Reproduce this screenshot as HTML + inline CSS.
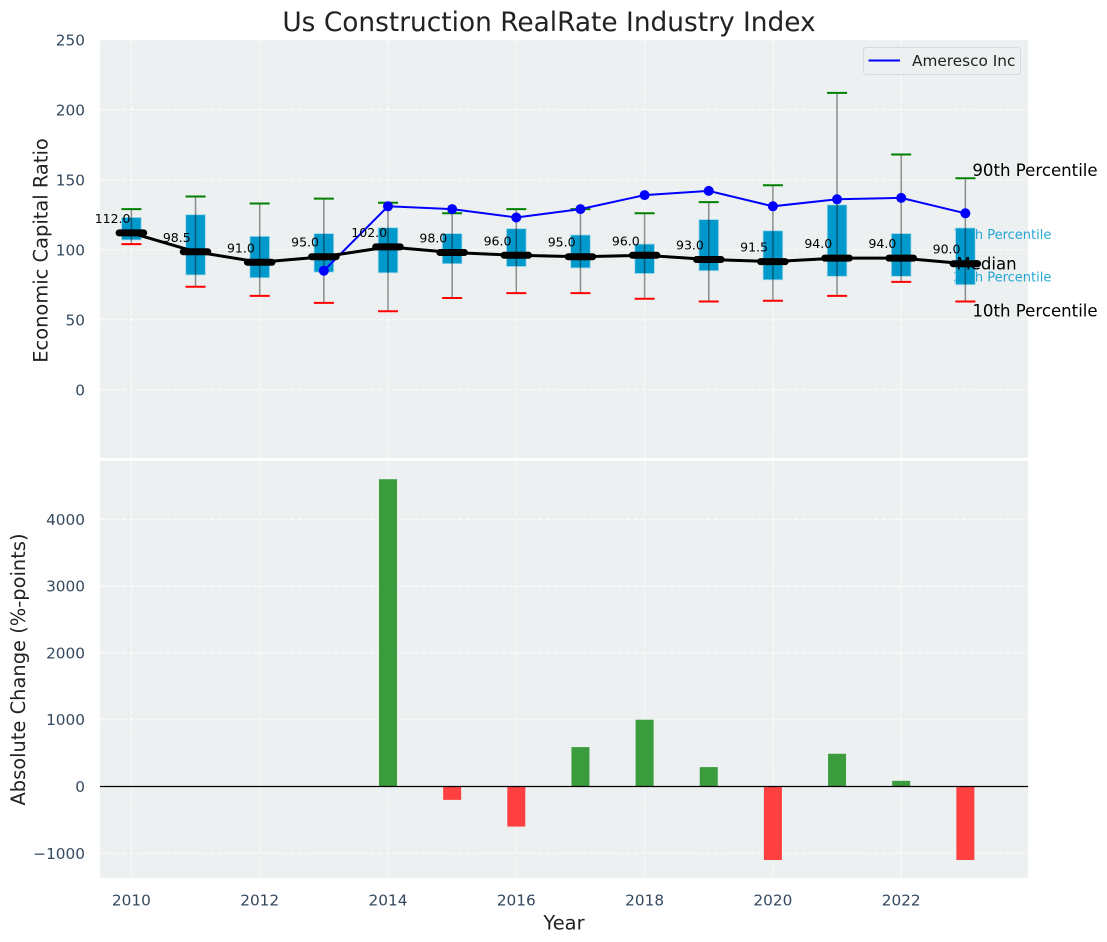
<!DOCTYPE html>
<html lang="en">
<head>
<meta charset="utf-8">
<title>Us Construction RealRate Industry Index</title>
<style>
html,body{margin:0;padding:0;background:#fff;}
body{width:1107px;height:942px;overflow:hidden;}
svg{display:block;font-family:"DejaVu Sans","Liberation Sans",sans-serif;}
</style>
</head>
<body>
<svg id="chart" width="1107" height="942" viewBox="0 0 1107 942" xmlns="http://www.w3.org/2000/svg">
  <rect x="100" y="40" width="928" height="418" fill="#ecf0f1"/>
  <rect x="100" y="461" width="928" height="417" fill="#ecf0f1"/>
  <g id="grid"></g>
  <g id="labelsUnder">
    <text id="p75Label" font-size="13" fill="#0099cc" fill-opacity="0.85" text-anchor="end">75th Percentile</text>
    <text id="p25Label" font-size="13" fill="#0099cc" fill-opacity="0.85" text-anchor="end">25th Percentile</text>
  </g>
  <g id="boxes"></g>
  <g id="whiskers"></g>
  <g id="companyLine"></g>
  <text id="medianLabel" font-size="16.6" fill="#000">Median</text>
  <g id="medians"></g>
  <text id="p90Label" font-size="16.6" fill="#000">90th Percentile</text>
  <text id="p10Label" font-size="16.6" fill="#000">10th Percentile</text>
  <g id="bars"></g>
  <g id="ticks"></g>

  <text x="549" y="31" font-size="26.4" fill="#222" text-anchor="middle">Us Construction RealRate Industry Index</text>
  <text transform="translate(47.5,250.5) rotate(-90)" font-size="19.45" fill="#222" text-anchor="middle">Economic Capital Ratio</text>
  <text transform="translate(25,669.5) rotate(-90)" font-size="19.45" fill="#222" text-anchor="middle">Absolute Change (%-points)</text>
  <text x="564" y="929.5" font-size="19.45" fill="#222" text-anchor="middle">Year</text>

  <g>
    <rect x="863.5" y="47.5" width="157" height="27" rx="3" fill="#ecf0f1" stroke="#d6d9da" stroke-width="1"/>
    <line x1="868.5" y1="60.5" x2="900" y2="60.5" stroke="#0000ff" stroke-width="2"/>
    <text x="912" y="66" font-size="15.3" fill="#222">Ameresco Inc</text>
  </g>
</svg>
<script>
const years = [2010,2011,2012,2013,2014,2015,2016,2017,2018,2019,2020,2021,2022,2023];
const median = [112,98.5,91,95,102,98,96,95,96,93,91.5,94,94,90];
const p90 = [129,138,133,136.5,133.5,126,129,129,126,134,146,212,168,151];
const p10 = [104,73.5,67,62,56,65.5,69,69,65,63,63.5,67,77,63];
const p75 = [123,125,109.5,111.5,115.7,111.5,115,110.5,104,121.5,113.5,132,111.5,115.5];
const p25 = [107,82,80,84,83.5,90,88,87,83,85,78.5,81,81,75];
const ameresco = [null,null,null,85,131,129,123,129,139,142,131,136,137,126];
const absChange = [0,0,0,0,4600,-200,-600,590,1000,290,-1100,490,85,-1100];
const xTicks = [2010,2012,2014,2016,2018,2020,2022];
const upperTicks = [0,50,100,150,200,250];
const lowerTicks = [-1000,0,1000,2000,3000,4000];

const NS = 'http://www.w3.org/2000/svg';
const sx = v => 131.4 + (v - 2010) * 64.15;
const sy = v => 389.7 - v * 1.4;
const sb = v => 786.5 - v * 0.0668;

function mk(parent, tag, attrs, text) {
  const el = document.createElementNS(NS, tag);
  for (const k in attrs) el.setAttribute(k, attrs[k]);
  if (text !== undefined) el.textContent = text;
  parent.appendChild(el);
  return el;
}
const grid = document.getElementById('grid');
const ticks = document.getElementById('ticks');
const boxes = document.getElementById('boxes');
const whiskers = document.getElementById('whiskers');
const companyLine = document.getElementById('companyLine');
const medians = document.getElementById('medians');
const bars = document.getElementById('bars');
const gridStyle = {stroke:'#ffffff','stroke-width':1.2,'stroke-dasharray':'5.1 2.2','stroke-opacity':0.75};

xTicks.forEach(t => {
  const a = mk(grid, 'line', {x1:sx(t),x2:sx(t),y1:40,y2:458,...gridStyle});
  
  
  const b = mk(grid, 'line', {x1:sx(t),x2:sx(t),y1:461,y2:878,...gridStyle});
  
  
  const l = mk(ticks, 'text', {x:sx(t),y:905.5,'font-size':15.3,fill:'#34495e','text-anchor':'middle'}, String(t));
  
  
});
upperTicks.forEach(t => {
  const g = mk(grid, 'line', {x1:100,x2:1028,y1:sy(t),y2:sy(t),...gridStyle});
  
  
  const l = mk(ticks, 'text', {x:85,y:sy(t)+5.8,'font-size':15.3,fill:'#34495e','text-anchor':'end'}, String(t));
  
  
});
lowerTicks.forEach(t => {
  const g = mk(grid, 'line', {x1:100,x2:1028,y1:sb(t),y2:sb(t),...gridStyle});
  
  
  const txt = t < 0 ? '\u2212' + Math.abs(t) : String(t);
  const l = mk(ticks, 'text', {x:85,y:sb(t)+5.5,'font-size':15.3,fill:'#34495e','text-anchor':'end'}, txt);
  
  
});

const last = years.length - 1;
const lastX = sx(years[last]);
function place(id, x, y) {
  const el = document.getElementById(id);
  el.setAttribute('x', x);
  el.setAttribute('y', y);
}
place('p75Label', lastX + 86, sy(p75[last]) + 11);
place('p25Label', lastX + 86, sy(p25[last]) - 3);
place('medianLabel', lastX - 9, sy(median[last]) + 6);
place('p90Label', lastX + 7, sy(p90[last]) - 2.5);
place('p10Label', lastX + 7, sy(p10[last]) + 15);

years.forEach((yr, i) => {
  const x = sx(yr);
  const box = mk(boxes, 'rect', {x:x-9.8,y:sy(p75[i]),width:19.6,height:sy(p25[i])-sy(p75[i]),fill:'#0099cc',stroke:'#9fd8ea','stroke-width':0.8});
  
  
  const stem = mk(whiskers, 'line', {x1:x,x2:x,y1:sy(p90[i]),y2:sy(p10[i]),stroke:'#000','stroke-opacity':0.42,'stroke-width':1.5});
  
  
  const top = mk(whiskers, 'line', {x1:x-10,x2:x+10,y1:sy(p90[i]),y2:sy(p90[i]),stroke:'#008000','stroke-width':2});
  
  
  const bot = mk(whiskers, 'line', {x1:x-10,x2:x+10,y1:sy(p10[i]),y2:sy(p10[i]),stroke:'#ff0000','stroke-width':2});
  
  
  if (absChange[i] !== 0) {
    const y0 = sb(Math.max(absChange[i], 0));
    const y1 = sb(Math.min(absChange[i], 0));
    const up = absChange[i] > 0;
    const bar = mk(bars, 'rect', {x:x-9,y:y0,width:18,height:y1-y0,fill:up?'#3a9c3d':'#ff4040'});
    
    
  }
});

const amPts = years.map((y, i) => ameresco[i] === null ? null : sx(y) + ',' + sy(ameresco[i])).filter(Boolean).join(' ');
const amLine = mk(companyLine, 'polyline', {points:amPts,fill:'none',stroke:'#0000ff','stroke-width':2});


years.forEach((y, i) => {
  if (ameresco[i] === null) return;
  const dot = mk(companyLine, 'circle', {cx:sx(y),cy:sy(ameresco[i]),r:5,fill:'#0000ff'});
  
  
});

const medPts = years.map((y, i) => sx(y) + ',' + sy(median[i])).join(' ');
const medLine = mk(medians, 'polyline', {points:medPts,fill:'none',stroke:'#000','stroke-width':3});


years.forEach((y, i) => {
  const x = sx(y), v = sy(median[i]);
  const m = mk(medians, 'line', {x1:x-12.3,x2:x+12.3,y1:v,y2:v,stroke:'#000','stroke-width':7,'stroke-linecap':'round'});
  
  
  const t = mk(medians, 'text', {x:x-18.8,y:v-10,'font-size':12.5,fill:'#000','text-anchor':'middle'}, median[i].toFixed(1));
  
  
});

const zero = mk(bars, 'line', {x1:100,x2:1028,y1:sb(0),y2:sb(0),stroke:'#000','stroke-width':1.2});


</script>
</body>
</html>
